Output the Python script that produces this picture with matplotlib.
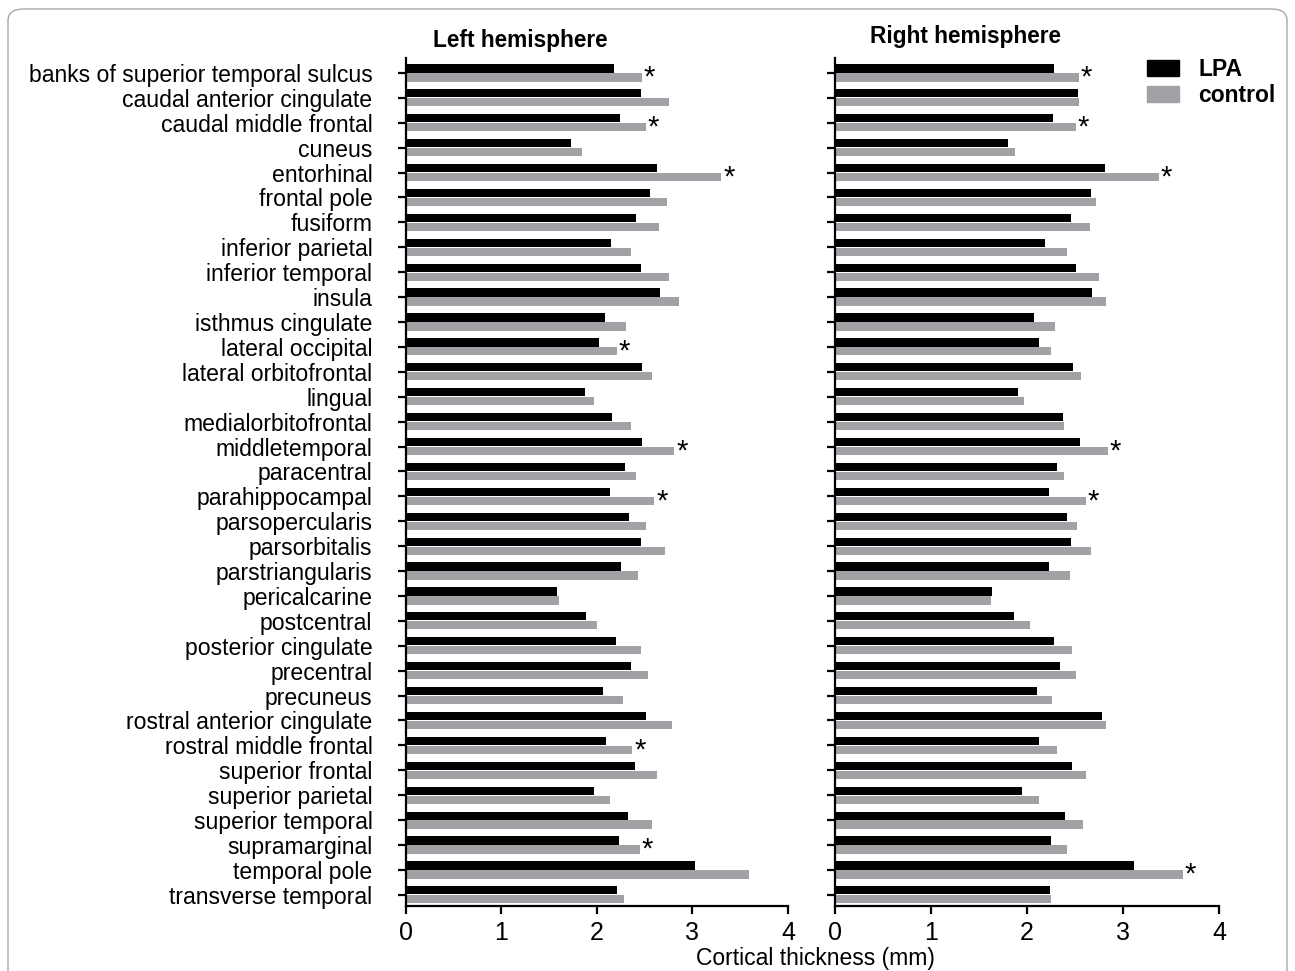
import numpy as np
import matplotlib.pyplot as plt
from matplotlib.patches import FancyBboxPatch

plt.rcParams['font.family'] = ['Liberation Sans', 'DejaVu Sans']

# Regions (top to bottom)
regions = [
    "banks of superior temporal sulcus", "caudal anterior cingulate",
    "caudal middle frontal", "cuneus", "entorhinal", "frontal pole",
    "fusiform", "inferior parietal", "inferior temporal", "insula",
    "isthmus cingulate", "lateral occipital", "lateral orbitofrontal",
    "lingual", "medialorbitofrontal", "middletemporal", "paracentral",
    "parahippocampal", "parsopercularis", "parsorbitalis",
    "parstriangularis", "pericalcarine", "postcentral",
    "posterior cingulate", "precentral", "precuneus",
    "rostral anterior cingulate", "rostral middle frontal",
    "superior frontal", "superior parietal", "superior temporal",
    "supramarginal", "temporal pole", "transverse temporal",
]

# Left hemisphere cortical thickness (mm)
left_lpa = [2.18, 2.46, 2.24, 1.73, 2.63, 2.56, 2.41, 2.15, 2.46, 2.66,
            2.09, 2.02, 2.47, 1.88, 2.16, 2.47, 2.29, 2.14, 2.34, 2.46,
            2.25, 1.58, 1.89, 2.20, 2.36, 2.06, 2.51, 2.10, 2.40, 1.97,
            2.33, 2.23, 3.03, 2.21]
left_ctrl = [2.47, 2.76, 2.51, 1.84, 3.30, 2.73, 2.65, 2.36, 2.75, 2.86,
             2.30, 2.21, 2.58, 1.97, 2.36, 2.81, 2.41, 2.60, 2.51, 2.71,
             2.43, 1.60, 2.00, 2.46, 2.53, 2.27, 2.79, 2.37, 2.63, 2.14,
             2.58, 2.45, 3.59, 2.28]

# Right hemisphere cortical thickness (mm)
right_lpa = [2.28, 2.53, 2.27, 1.80, 2.81, 2.67, 2.46, 2.19, 2.51, 2.68,
             2.07, 2.12, 2.48, 1.91, 2.37, 2.55, 2.31, 2.23, 2.42, 2.46,
             2.23, 1.64, 1.86, 2.28, 2.34, 2.10, 2.78, 2.13, 2.47, 1.95,
             2.40, 2.25, 3.11, 2.24]
right_ctrl = [2.54, 2.54, 2.51, 1.87, 3.37, 2.72, 2.66, 2.42, 2.75, 2.82,
              2.29, 2.25, 2.56, 1.97, 2.39, 2.84, 2.39, 2.61, 2.52, 2.67,
              2.45, 1.63, 2.03, 2.47, 2.51, 2.26, 2.82, 2.31, 2.61, 2.13,
              2.58, 2.42, 3.62, 2.25]

# significant differences
left_sig = ["banks of superior temporal sulcus", "caudal middle frontal",
            "entorhinal", "lateral occipital", "middletemporal",
            "parahippocampal", "rostral middle frontal", "supramarginal"]
right_sig = ["banks of superior temporal sulcus", "caudal middle frontal",
             "entorhinal", "middletemporal", "parahippocampal",
             "temporal pole"]

black = "#000000"
grey = "#a2a2a6"

fig = plt.figure(figsize=(12.95, 9.71), dpi=100)

# rounded frame around the figure
frame = FancyBboxPatch((8 / 1295, -0.05), 1279 / 1295, 1.05 - 9 / 971,
                       boxstyle="round,pad=0,rounding_size=0.012",
                       transform=fig.transFigure, fill=False,
                       edgecolor="#a8a8a8", linewidth=1.0)
fig.patches.append(frame)

ax_l = fig.add_axes([0.3133, 0.0669, 0.2952, 0.8734])
ax_r = fig.add_axes([0.6448, 0.0669, 0.2965, 0.8734])

y = np.arange(len(regions))
h = 0.33
off = 0.18


def draw(ax, lpa, ctrl, sig):
    ax.barh(y - off, lpa, height=h, color=black, edgecolor="none")
    ax.barh(y + off, ctrl, height=h, color=grey, edgecolor="none")
    for i, r in enumerate(regions):
        if r in sig:
            ax.text(ctrl[i] + 0.02, y[i] + off + 0.02, "*", fontsize=21,
                    ha="left", va="center")
    ax.set_xlim(0, 4)
    ax.set_ylim(len(regions) - 1 + 0.45, -0.6)
    ax.set_xticks([0, 1, 2, 3, 4])
    ax.set_yticks(y)
    for s in ["top", "right"]:
        ax.spines[s].set_visible(False)
    for s in ["left", "bottom"]:
        ax.spines[s].set_linewidth(1.6)
    ax.tick_params(axis="both", direction="out", length=6, width=1.6)
    ax.tick_params(axis="x", labelsize=18, pad=5)
    ax.tick_params(axis="y", labelsize=16.6, pad=18)


draw(ax_l, left_lpa, left_ctrl, left_sig)
draw(ax_r, right_lpa, right_ctrl, right_sig)
ax_l.set_yticklabels(regions)
ax_r.set_yticklabels([])

fig.text(520 / 1295, 1 - 40 / 971, "Left hemisphere", fontsize=16.3,
         fontweight="bold", ha="center", va="center")
fig.text(966 / 1295, 1 - 37 / 971, "Right hemisphere", fontsize=16.3,
         fontweight="bold", ha="center", va="center")
fig.text(815 / 1295, 1 - 958 / 971, "Cortical thickness (mm)", fontsize=16.5,
         ha="center", va="center")

# legend
lg = fig.legend(handles=[plt.Rectangle((0, 0), 1, 1, color=black),
                         plt.Rectangle((0, 0), 1, 1, color=grey)],
                labels=["LPA", "control"], loc="upper right",
                bbox_to_anchor=(1294 / 1295, 1 - 40 / 971), frameon=False,
                prop={"size": 16.5, "weight": "bold"}, handlelength=1.4,
                handleheight=0.7, handletextpad=0.85, labelspacing=0.12,
                borderpad=0.3)

fig.savefig("out.png", dpi=100)
